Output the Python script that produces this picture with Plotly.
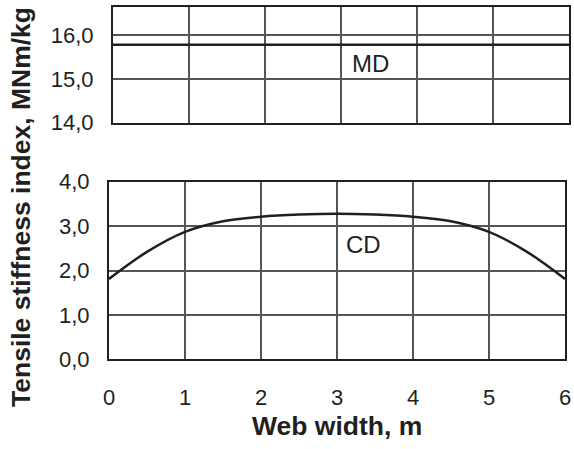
import plotly.graph_objects as go

# Data
web_width_cd = [0, 0.5, 1.0, 1.5, 2.0, 2.5, 3.0, 3.5, 4.0, 4.5, 5.0, 5.5, 6.0]
cd_index = [1.81, 2.42, 2.87, 3.11, 3.21, 3.26, 3.28, 3.26, 3.21, 3.11, 2.87, 2.42, 1.81]
web_width_md = [0, 6]
md_index = [15.79, 15.79]

x_ticks = [0, 1, 2, 3, 4, 5, 6]
md_ticks = [14.0, 15.0, 16.0]
md_ticklabels = ["14,0", "15,0", "16,0"]
cd_ticks = [0.0, 1.0, 2.0, 3.0, 4.0]
cd_ticklabels = ["0,0", "1,0", "2,0", "3,0", "4,0"]

W, H = 574, 449
FONT = "Liberation Sans, Arial, sans-serif"
TXT = "#231f20"
GRID = "#555555"

fig = go.Figure()
fig.add_trace(go.Scatter(x=web_width_md, y=md_index, mode="lines",
                         line=dict(color=TXT, width=2.5), xaxis="x", yaxis="y",
                         showlegend=False, hoverinfo="skip"))
fig.add_trace(go.Scatter(x=web_width_cd, y=cd_index, mode="lines",
                         line=dict(color=TXT, width=2.5, shape="spline", smoothing=1.0),
                         xaxis="x2", yaxis="y2", showlegend=False, hoverinfo="skip"))

common_x = dict(range=[0, 6], tickvals=x_ticks, showgrid=True, gridcolor=GRID, gridwidth=1.5,
                showline=True, linecolor=TXT, linewidth=2, mirror=True, zeroline=False,
                automargin=False,
                ticks="", tickfont=dict(family=FONT, size=22, color=TXT))
common_y = dict(showgrid=True, gridcolor=GRID, gridwidth=1.5,
                showline=True, linecolor=TXT, linewidth=2, mirror=True, zeroline=False,
                automargin=False,
                ticks="", tickfont=dict(family=FONT, size=22, color=TXT), ticklabelstandoff=13)

fig.update_layout(
    width=W, height=H,
    margin=dict(l=0, r=0, t=0, b=0, autoexpand=False),
    paper_bgcolor="white", plot_bgcolor="white",
    xaxis=dict(common_x, domain=[113 / W, 569 / W], anchor="y", showticklabels=False),
    yaxis=dict(common_y, domain=[1 - 122.7 / H, 1 - 6.7 / H], anchor="x",
               range=[14.0, 16.66], tickvals=md_ticks, ticktext=md_ticklabels),
    xaxis2=dict(common_x, domain=[109 / W, 565 / W], anchor="y2", ticklabelstandoff=17),
    yaxis2=dict(common_y, domain=[1 - 359.3 / H, 1 - 181.7 / H], anchor="x2",
                range=[0, 4.0], tickvals=cd_ticks, ticktext=cd_ticklabels),
    annotations=[
        dict(text="MD", x=370 / W, y=1 - 63.3 / H, xref="paper", yref="paper",
             xanchor="center", yanchor="middle",
             showarrow=False, font=dict(family=FONT, size=24, color=TXT)),
        dict(text="CD", x=363 / W, y=1 - 245 / H, xref="paper", yref="paper",
             xanchor="center", yanchor="middle",
             showarrow=False, font=dict(family=FONT, size=24, color=TXT)),
        dict(text="<b>Web width, m</b>", x=337 / W, y=1 - 426 / H, xref="paper", yref="paper",
             xanchor="center", yanchor="middle",
             showarrow=False, font=dict(family=FONT, size=26.5, color=TXT)),
        dict(text="<b>Tensile stiffness index, MNm/kg</b>", x=21 / W, y=1 - 207 / H,
             xref="paper", yref="paper", textangle=-90, showarrow=False,
             xanchor="center", yanchor="middle",
             font=dict(family=FONT, size=26.5, color=TXT)),
    ],
)

fig.write_html("out.html")
